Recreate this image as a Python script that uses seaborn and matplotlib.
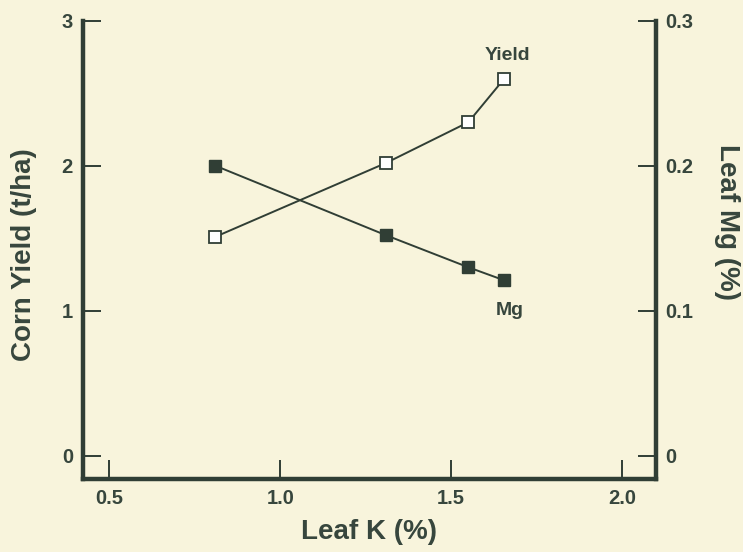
import numpy as np
import pandas as pd
import seaborn as sns
import matplotlib.pyplot as plt

#data
leaf_k = [0.81, 1.31, 1.55, 1.655]
corn_yield = [1.51, 2.02, 2.30, 2.60]
leaf_mg = [0.200, 0.152, 0.130, 0.121]

x_ticks = [0.5, 1.0, 1.5, 2.0]
x_labels = ['0.5', '1.0', '1.5', '2.0']
yl_ticks = [0, 1, 2, 3]
yl_labels = ['0', '1', '2', '3']
yr_ticks = [0, 0.1, 0.2, 0.3]
yr_labels = ['0', '0.1', '0.2', '0.3']

df = pd.DataFrame({'leaf_k': leaf_k, 'yield': corn_yield, 'mg': leaf_mg})

#colours of the scanned page
bg = '#f8f4dc'
ink = '#303e35'
text_col = '#37463d'

sns.set_style("ticks")
plt.rcParams['font.family'] = ['Liberation Sans', 'DejaVu Sans']

fig = plt.figure(figsize=(7.43, 5.52), dpi=100)
fig.patch.set_facecolor(bg)
ax = fig.add_axes([0.1113, 0.1322, 0.7712, 0.8303])
ax.set_facecolor(bg)
ax2 = ax.twinx()

#yield - open squares on left axis
sns.lineplot(data=df, x='leaf_k', y='yield', ax=ax, color=ink, linewidth=1.4,
             marker='s', markersize=8.5, markerfacecolor='white',
             markeredgecolor=ink, markeredgewidth=1.3)

#leaf Mg - filled squares on right axis
sns.lineplot(data=df, x='leaf_k', y='mg', ax=ax2, color=ink, linewidth=1.4,
             marker='s', markersize=8.5, markerfacecolor=ink,
             markeredgecolor=ink, markeredgewidth=1.0)

ax.set_xlim(0.422, 2.098)
ax.set_ylim(-0.16, 3.0)
ax2.set_ylim(-0.016, 0.3)

ax.set_xticks(x_ticks)
ax.set_xticklabels(x_labels, fontweight='bold')
ax.set_yticks(yl_ticks)
ax.set_yticklabels(yl_labels, fontweight='bold')
ax2.set_yticks(yr_ticks)
ax2.set_yticklabels(yr_labels, fontweight='bold')

#spines
for s in ['top', 'right']:
    ax.spines[s].set_visible(False)
for s in ['top', 'left', 'bottom']:
    ax2.spines[s].set_visible(False)
for sp in [ax.spines['left'], ax.spines['bottom'], ax2.spines['right']]:
    sp.set_linewidth(3.2)
    sp.set_color(ink)

ax.tick_params(axis='x', direction='in', length=14, width=1.4, color=ink,
               labelsize=14.5, labelcolor=text_col, pad=7)
ax.tick_params(axis='y', direction='in', length=13, width=1.4, color=ink,
               labelsize=14.5, labelcolor=text_col, pad=7)
ax2.tick_params(axis='y', direction='in', length=13, width=1.4, color=ink,
                labelsize=14.5, labelcolor=text_col, pad=7)

ax.set_xlabel('Leaf K (%)', fontsize=20, fontweight='bold', color=text_col, labelpad=8)
ax.set_ylabel('Corn Yield (t/ha)', fontsize=20, fontweight='bold', color=text_col)
ax.yaxis.set_label_coords(-0.08, 0.49)
ax2.set_ylabel('Leaf Mg (%)', fontsize=20, fontweight='bold', color=text_col, rotation=-90)
ax2.yaxis.set_label_coords(1.147, 0.56)

#series labels
ax.text(1.665, 2.76, 'Yield', fontsize=14, fontweight='bold', color=text_col,
        ha='center', va='center')
ax.text(1.67, 1.0, 'Mg', fontsize=14, fontweight='bold', color=text_col,
        ha='center', va='center')

fig.savefig('out.png', dpi=100, facecolor=bg)
